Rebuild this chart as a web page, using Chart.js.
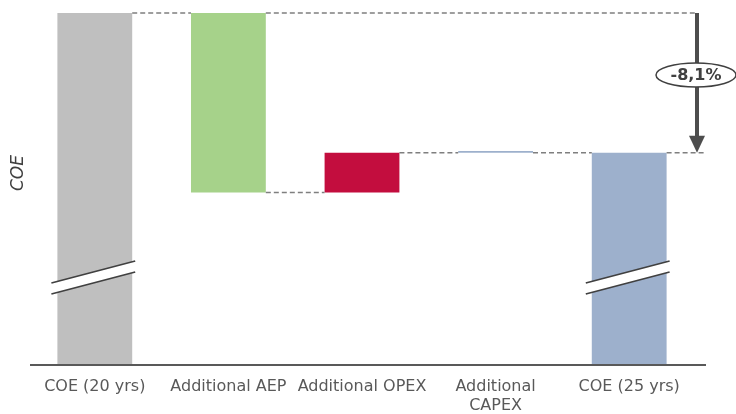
<!DOCTYPE html>
<html>
<head>
<meta charset="utf-8">
<script src="https://cdn.jsdelivr.net/npm/chart.js@4.4.1/dist/chart.umd.min.js"></script>
<style>
    html, body { margin: 0; padding: 0; background: #fff; }
    #wrap { width: 736px; height: 414px; }
</style>
</head>
<body>
<div id="wrap"><canvas id="coeChart"></canvas></div>
<script>
const categories = ["COE (20 yrs)", "Additional AEP", "Additional OPEX", ["Additional", "CAPEX"], "COE (25 yrs)"];
// floating bars: bottom and top of each step (axis is broken, starts at 79.6)
const barLows = [79.6, 89.6, 89.6, 91.9, 79.6];
const barHighs = [100, 100, 91.9, 92.0, 91.9];
const barColors = ["#bfbfbf", "#a6d28a", "#c30d3e", "#9db0cc", "#9db0cc"];
const changeLabel = "-8,1%";
const breakValue = 84.7;

const axisMin = 79.6;
const axisMax = 100;

const extras = {
    id: "extras",
    afterDatasetsDraw(chart) {
        const ctx = chart.ctx;
        const y = chart.scales.y;
        const bars = chart.getDatasetMeta(0).data;
        const arrowX = chart.chartArea.right + 1;

        // dashed connectors between steps
        const levels = [barHighs[0], barLows[1], barHighs[2], barHighs[4]];
        const segs = [];
        for (let i = 0; i < bars.length - 1; i++) {
            segs.push([bars[i].x + bars[i].width / 2, bars[i + 1].x - bars[i + 1].width / 2, y.getPixelForValue(levels[i])]);
        }
        segs.push([bars[1].x + bars[1].width / 2, arrowX, y.getPixelForValue(barHighs[0])]);
        segs.push([bars[4].x + bars[4].width / 2, arrowX + 8, y.getPixelForValue(barHighs[4])]);
        ctx.save();
        ctx.strokeStyle = "#7f7f7f";
        ctx.lineWidth = 1.5;
        ctx.setLineDash([5, 3]);
        segs.forEach(s => {
            ctx.beginPath();
            ctx.moveTo(s[0], s[2]);
            ctx.lineTo(s[1], s[2]);
            ctx.stroke();
        });
        ctx.restore();

        // axis break marks on the full bars
        [0, 4].forEach(i => {
            const b = bars[i];
            const x1 = b.x - b.width / 2 - 6;
            const x2 = b.x + b.width / 2 + 3;
            const yc = y.getPixelForValue(breakValue);
            ctx.save();
            ctx.fillStyle = "#fff";
            ctx.beginPath();
            ctx.moveTo(x1, yc + 6);
            ctx.lineTo(x2, yc - 16);
            ctx.lineTo(x2, yc - 5);
            ctx.lineTo(x1, yc + 17);
            ctx.closePath();
            ctx.fill();
            ctx.strokeStyle = "#404040";
            ctx.lineWidth = 1.8;
            ctx.beginPath();
            ctx.moveTo(x1, yc + 6);
            ctx.lineTo(x2, yc - 16);
            ctx.moveTo(x1, yc + 17);
            ctx.lineTo(x2, yc - 5);
            ctx.stroke();
            ctx.restore();
        });

        // baseline
        ctx.save();
        ctx.strokeStyle = "#595959";
        ctx.lineWidth = 2;
        ctx.beginPath();
        ctx.moveTo(30, chart.chartArea.bottom);
        ctx.lineTo(706, chart.chartArea.bottom);
        ctx.stroke();
        ctx.restore();

        // change arrow
        const yTop = y.getPixelForValue(barHighs[0]);
        const yBot = y.getPixelForValue(barHighs[4]);
        ctx.save();
        ctx.strokeStyle = "#4d4d4d";
        ctx.fillStyle = "#4d4d4d";
        ctx.lineWidth = 4;
        ctx.beginPath();
        ctx.moveTo(arrowX, yTop);
        ctx.lineTo(arrowX, yBot - 14);
        ctx.stroke();
        ctx.beginPath();
        ctx.moveTo(arrowX - 8, yBot - 17);
        ctx.lineTo(arrowX + 8, yBot - 17);
        ctx.lineTo(arrowX, yBot);
        ctx.closePath();
        ctx.fill();

        ctx.fillStyle = "#fff";
        ctx.strokeStyle = "#404040";
        ctx.lineWidth = 1.5;
        ctx.beginPath();
        ctx.ellipse(arrowX - 1, 75, 40, 12, 0, 0, Math.PI * 2);
        ctx.fill();
        ctx.stroke();
        ctx.fillStyle = "#404040";
        ctx.font = "bold 16px 'DejaVu Sans'";
        ctx.textAlign = "center";
        ctx.textBaseline = "middle";
        ctx.fillText(changeLabel, arrowX - 1, 76);
        ctx.restore();

        // y title
        ctx.save();
        ctx.translate(19, 173);
        ctx.rotate(-Math.PI / 2);
        ctx.fillStyle = "#404040";
        ctx.font = "italic 17px 'DejaVu Sans'";
        ctx.textAlign = "center";
        ctx.textBaseline = "middle";
        ctx.fillText("COE", 0, 0);
        ctx.restore();
    }
};

new Chart(document.getElementById("coeChart"), {
    type: "bar",
    data: {
        labels: categories,
        datasets: [{
            data: barLows.map((v, i) => [v, barHighs[i]]),
            backgroundColor: barColors,
            borderWidth: 0,
            categoryPercentage: 1,
            barPercentage: 0.56,
        }],
    },
    options: {
        responsive: true,
        maintainAspectRatio: false,
        animation: false,
        layout: { padding: { left: 28, right: 40, top: 13, bottom: 0 } },
        plugins: {
            legend: { display: false },
            tooltip: { enabled: false },
        },
        scales: {
            x: {
                grid: { display: false },
                border: { display: false },
                afterFit(scale) { scale.height = 49; },
                ticks: {
                    color: "#595959",
                    padding: 4,
                    maxRotation: 0,
                    font: { family: "'DejaVu Sans'", size: 16, lineHeight: 1.2 },
                },
            },
            y: {
                display: false,
                min: axisMin,
                max: axisMax,
            },
        },
    },
    plugins: [extras],
});
</script>
</body>
</html>
